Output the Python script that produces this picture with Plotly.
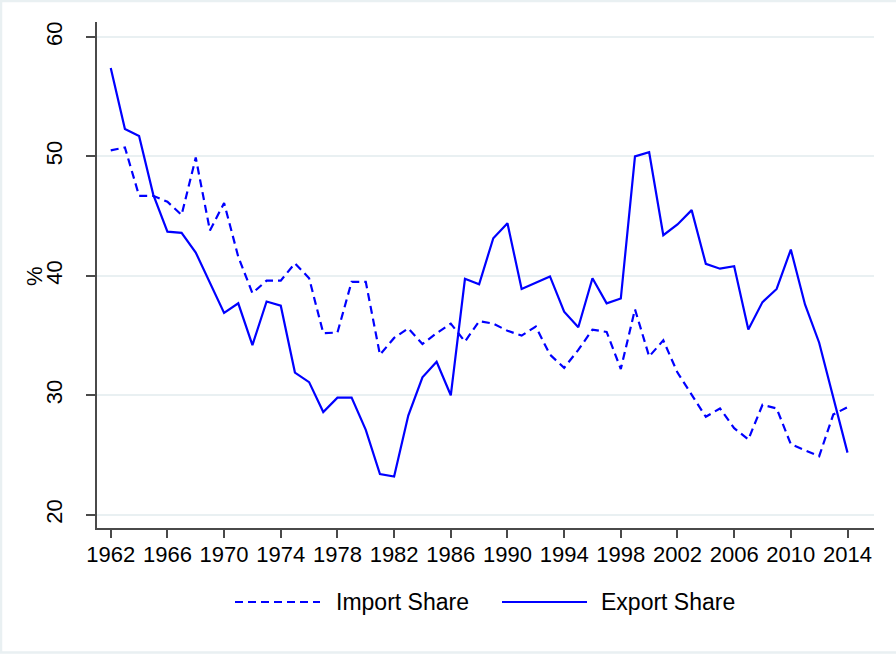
import plotly.graph_objects as go

years = list(range(1962, 2015))

import_share = [
    50.5, 50.75, 46.7, 46.7, 46.2, 45.1, 49.9, 43.8, 46.1, 41.6,
    38.55, 39.6, 39.6, 41.05, 39.8, 35.2, 35.25, 39.5, 39.5, 33.4,
    34.8, 35.6, 34.3, 35.2, 36.0, 34.5, 36.2, 36.0, 35.4, 35.0,
    35.75, 33.4, 32.3, 33.8, 35.5, 35.3, 32.2, 37.2, 33.25, 34.6,
    31.9, 30.1, 28.2, 28.9, 27.25, 26.3, 29.2, 28.9, 25.9, 25.4,
    24.9, 28.4, 29.0,
]

export_share = [
    57.4, 52.3, 51.7, 46.8, 43.7, 43.6, 41.95, 39.4, 36.9, 37.7,
    34.2, 37.85, 37.5, 31.9, 31.1, 28.6, 29.8, 29.8, 27.1, 23.4,
    23.2, 28.3, 31.5, 32.8, 30.0, 39.75, 39.3, 43.15, 44.4, 38.9,
    39.4, 39.95, 37.0, 35.7, 39.8, 37.7, 38.1, 50.0, 50.35, 43.4,
    44.3, 45.5, 41.0, 40.6, 40.8, 35.5, 37.8, 38.9, 42.2, 37.6,
    34.4, 29.8, 25.2,
]

x_ticks = list(range(1962, 2015, 4))
y_ticks = [20, 30, 40, 50, 60]

series_names = ["Import Share", "Export Share"]
y_title = "%"

BLUE = "#0000ff"
GRID = "#e9f0f2"
AXIS = "#4a4a4a"
FONT = "Liberation Sans, Arial, sans-serif"

W, H = 896, 654
ML, MR, MT, MB = 97, 22, 22, 126
PW, PH = W - ML - MR, H - MT - MB


def px_x(p):
    return (p - ML) / PW


def px_y(p):
    return (H - MB - p) / PH


fig = go.Figure()
fig.add_trace(go.Scatter(
    x=years, y=import_share, mode="lines", name=series_names[0],
    line=dict(color=BLUE, width=2.2, dash="8px,5px"), showlegend=False,
))
fig.add_trace(go.Scatter(
    x=years, y=export_share, mode="lines", name=series_names[1],
    line=dict(color=BLUE, width=2.2), showlegend=False,
))

# legend drawn below the plot with long line samples
legend_y = px_y(602)
shapes = [
    dict(type="line", xref="paper", yref="paper",
         x0=px_x(235), x1=px_x(320), y0=legend_y, y1=legend_y,
         line=dict(color=BLUE, width=2.2, dash="8px,5px")),
    dict(type="line", xref="paper", yref="paper",
         x0=px_x(502), x1=px_x(587), y0=legend_y, y1=legend_y,
         line=dict(color=BLUE, width=2.2)),
    # light outer frame of the graph region
    dict(type="rect", xref="paper", yref="paper",
         x0=px_x(1), x1=px_x(W + 5), y0=px_y(H - 1.5), y1=px_y(1),
         line=dict(color=GRID, width=2.5), fillcolor="rgba(0,0,0,0)",
         layer="below"),
]
annotations = [
    dict(text=series_names[0], xref="paper", yref="paper",
         x=px_x(334), y=legend_y, xanchor="left", yanchor="middle",
         showarrow=False, font=dict(family=FONT, size=23, color="#000")),
    dict(text=series_names[1], xref="paper", yref="paper",
         x=px_x(599), y=legend_y, xanchor="left", yanchor="middle",
         showarrow=False, font=dict(family=FONT, size=23, color="#000")),
    # rotated y-axis title
    dict(text=y_title, xref="paper", yref="paper",
         x=px_x(34), y=px_y(276), xanchor="center", yanchor="middle",
         textangle=-90, showarrow=False,
         font=dict(family=FONT, size=22, color="#000")),
]

fig.update_layout(
    width=W, height=H,
    margin=dict(l=ML, r=MR, t=MT, b=MB, pad=0),
    paper_bgcolor="white", plot_bgcolor="white",
    font=dict(family=FONT, size=22, color="#000"),
    shapes=shapes, annotations=annotations,
    showlegend=False,
)

fig.update_xaxes(
    range=[1961.03, 2015.87],
    tickmode="array", tickvals=x_ticks, ticktext=[str(t) for t in x_ticks],
    showgrid=False, zeroline=False,
    showline=True, linecolor=AXIS, linewidth=1.5,
    ticks="outside", ticklen=8, tickwidth=1.5, tickcolor=AXIS,
    tickfont=dict(family=FONT, size=22, color="#000"),
    ticklabelstandoff=-2,
)
fig.update_yaxes(
    range=[18.89, 61.25],
    tickmode="array", tickvals=y_ticks, ticktext=[str(t) for t in y_ticks],
    showgrid=True, gridcolor=GRID, gridwidth=2,
    zeroline=False,
    showline=True, linecolor=AXIS, linewidth=1.5,
    ticks="outside", ticklen=9, tickwidth=1.5, tickcolor=AXIS,
    tickangle=-90,
    tickfont=dict(family=FONT, size=22, color="#000"),
    ticklabelstandoff=15,
)

fig.write_html("out.html")
